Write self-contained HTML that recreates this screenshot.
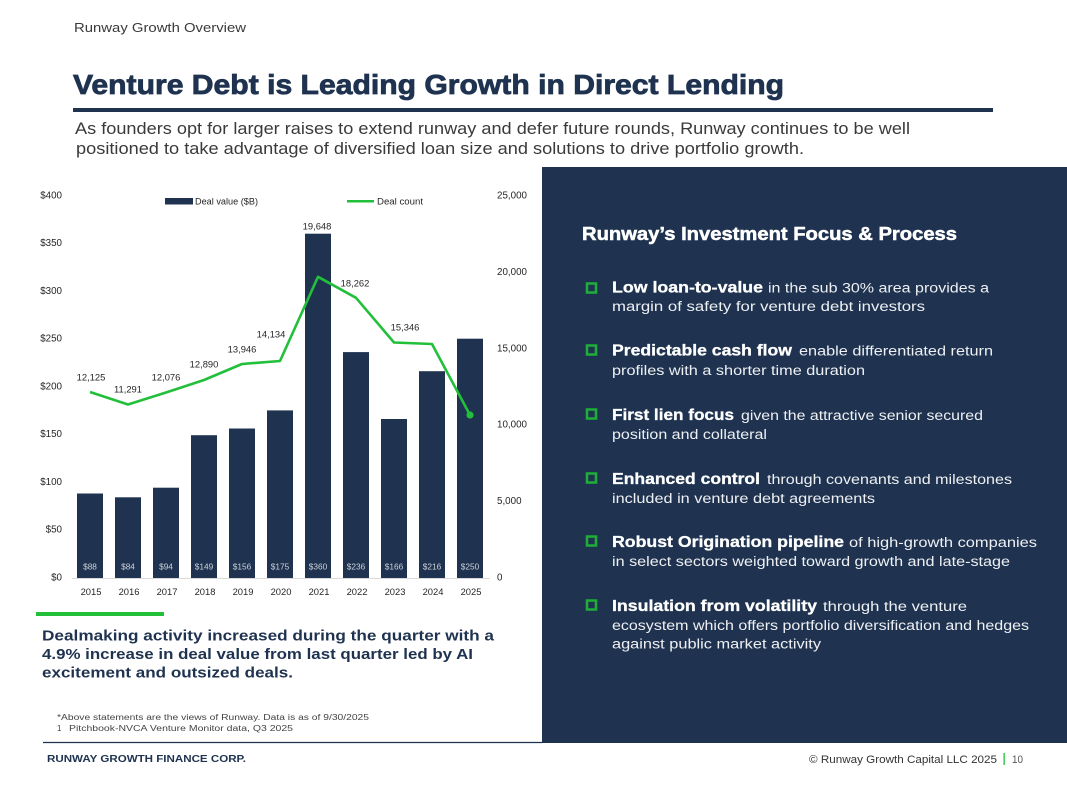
<!DOCTYPE html>
<html>
<head>
<meta charset="utf-8">
<style>
  html,body{margin:0;padding:0;background:#fff;}
  body{width:1067px;height:800px;overflow:hidden;}
  svg{display:block;font-family:"Liberation Sans",Arial,sans-serif;}
</style>
</head>
<body>
<svg width="1067" height="800" viewBox="0 0 1067 800" xmlns="http://www.w3.org/2000/svg">
  <rect x="0" y="0" width="1067" height="800" fill="#ffffff"/>

  <!-- Header -->
  <text x="74" y="32" font-size="13" fill="#3a3a3a" textLength="172" lengthAdjust="spacingAndGlyphs">Runway Growth Overview</text>
  <text x="73" y="94" font-size="28" font-weight="bold" fill="#1f3350" stroke="#1f3350" stroke-width="0.8" textLength="711" lengthAdjust="spacingAndGlyphs">Venture Debt is Leading Growth in Direct Lending</text>
  <rect x="73" y="108" width="920" height="4" fill="#1f3350"/>
  <text x="75" y="134" font-size="16.5" fill="#3a3a3a" textLength="835" lengthAdjust="spacingAndGlyphs">As founders opt for larger raises to extend runway and defer future rounds, Runway continues to be well</text>
  <text x="76" y="154" font-size="16.5" fill="#3a3a3a" textLength="728" lengthAdjust="spacingAndGlyphs">positioned to take advantage of diversified loan size and solutions to drive portfolio growth.</text>

  <!-- Right panel -->
  <rect x="542" y="167" width="525" height="576" fill="#1f3350"/>
  <text x="582" y="240" font-size="18" font-weight="bold" fill="#ffffff" stroke="#ffffff" stroke-width="0.5" textLength="375" lengthAdjust="spacingAndGlyphs">Runway’s Investment Focus &amp; Process</text>

  <g fill="none" stroke="#1fae38" stroke-width="2.5">
    <rect x="587" y="283.5" width="9" height="9"/>
    <rect x="587" y="345.5" width="9" height="9"/>
    <rect x="587" y="409.5" width="9" height="9"/>
    <rect x="587" y="473.5" width="9" height="9"/>
    <rect x="587" y="536.5" width="9" height="9"/>
    <rect x="587" y="600.5" width="9" height="9"/>
  </g>

  <g fill="#ffffff">
    <g stroke="#ffffff" stroke-width="0.3">
      <text x="612" y="292.5" font-size="15.5" font-weight="bold" textLength="151" lengthAdjust="spacingAndGlyphs">Low loan-to-value</text>
      <text x="612" y="355.7" font-size="15.5" font-weight="bold" textLength="180" lengthAdjust="spacingAndGlyphs">Predictable cash flow</text>
      <text x="612" y="420" font-size="15.5" font-weight="bold" textLength="122" lengthAdjust="spacingAndGlyphs">First lien focus</text>
      <text x="612" y="484" font-size="15.5" font-weight="bold" textLength="148" lengthAdjust="spacingAndGlyphs">Enhanced control</text>
      <text x="612" y="547" font-size="15.5" font-weight="bold" textLength="232" lengthAdjust="spacingAndGlyphs">Robust Origination pipeline</text>
      <text x="612" y="611" font-size="15.5" font-weight="bold" textLength="205" lengthAdjust="spacingAndGlyphs">Insulation from volatility</text>
    </g>
    <text x="768" y="292.5" font-size="13.5" fill="#eef0f3" textLength="221" lengthAdjust="spacingAndGlyphs">in the sub 30% area provides a</text>
    <text x="612" y="311" font-size="13.5" fill="#eef0f3" textLength="313" lengthAdjust="spacingAndGlyphs">margin of safety for venture debt investors</text>

    <text x="799" y="355.7" font-size="13.5" fill="#eef0f3" textLength="194" lengthAdjust="spacingAndGlyphs">enable differentiated return</text>
    <text x="612" y="375" font-size="13.5" fill="#eef0f3" textLength="253" lengthAdjust="spacingAndGlyphs">profiles with a shorter time duration</text>

    <text x="741" y="420" font-size="13.5" fill="#eef0f3" textLength="242" lengthAdjust="spacingAndGlyphs">given the attractive senior secured</text>
    <text x="612" y="439" font-size="13.5" fill="#eef0f3" textLength="155" lengthAdjust="spacingAndGlyphs">position and collateral</text>

    <text x="767" y="484" font-size="13.5" fill="#eef0f3" textLength="245" lengthAdjust="spacingAndGlyphs">through covenants and milestones</text>
    <text x="612" y="503" font-size="13.5" fill="#eef0f3" textLength="263" lengthAdjust="spacingAndGlyphs">included in venture debt agreements</text>

    <text x="849" y="547" font-size="13.5" fill="#eef0f3" textLength="188" lengthAdjust="spacingAndGlyphs">of high-growth companies</text>
    <text x="612" y="566" font-size="13.5" fill="#eef0f3" textLength="398" lengthAdjust="spacingAndGlyphs">in select sectors weighted toward growth and late-stage</text>

    <text x="823" y="611" font-size="13.5" fill="#eef0f3" textLength="144" lengthAdjust="spacingAndGlyphs">through the venture</text>
    <text x="612" y="630" font-size="13.5" fill="#eef0f3" textLength="417" lengthAdjust="spacingAndGlyphs">ecosystem which offers portfolio diversification and hedges</text>
    <text x="612" y="648.5" font-size="13.5" fill="#eef0f3" textLength="209" lengthAdjust="spacingAndGlyphs">against public market activity</text>
  </g>

  <!-- Chart: left axis labels -->
  <g font-size="9.8" fill="#262626" text-anchor="end">
    <text x="62" y="198.5">$400</text>
    <text x="62" y="246.2">$350</text>
    <text x="62" y="294">$300</text>
    <text x="62" y="341.7">$250</text>
    <text x="62" y="389.5">$200</text>
    <text x="62" y="437.2">$150</text>
    <text x="62" y="485">$100</text>
    <text x="62" y="532.7">$50</text>
    <text x="62" y="580.5">$0</text>
  </g>
  <!-- right axis labels -->
  <g font-size="9.8" fill="#262626">
    <text x="497" y="198.5">25,000</text>
    <text x="497" y="274.9">20,000</text>
    <text x="497" y="351.3">15,000</text>
    <text x="497" y="427.7">10,000</text>
    <text x="497" y="504.1">5,000</text>
    <text x="497" y="580.5">0</text>
  </g>

  <!-- Legend -->
  <rect x="165" y="198" width="28" height="6.5" fill="#1f3350"/>
  <text x="195" y="204.5" font-size="9" fill="#262626" textLength="63" lengthAdjust="spacingAndGlyphs">Deal value ($B)</text>
  <line x1="347" y1="201.3" x2="374" y2="201.3" stroke="#22c03a" stroke-width="2.5"/>
  <text x="377" y="204.5" font-size="9" fill="#262626" textLength="46" lengthAdjust="spacingAndGlyphs">Deal count</text>

  <!-- Bars -->
  <g fill="#1f3350">
    <rect x="77" y="493.5" width="26" height="84.5"/>
    <rect x="115" y="497.3" width="26" height="80.7"/>
    <rect x="153" y="487.7" width="26" height="90.3"/>
    <rect x="191" y="435.2" width="26" height="142.8"/>
    <rect x="229" y="428.5" width="26" height="149.5"/>
    <rect x="267" y="410.4" width="26" height="167.6"/>
    <rect x="305" y="233.7" width="26" height="344.3"/>
    <rect x="343" y="352.1" width="26" height="225.9"/>
    <rect x="381" y="419" width="26" height="159"/>
    <rect x="419" y="371.2" width="26" height="206.8"/>
    <rect x="457" y="338.7" width="26" height="239.3"/>
  </g>
  <!-- axis line -->
  <line x1="72" y1="578.5" x2="490" y2="578.5" stroke="#d9d9d9" stroke-width="1"/>

  <!-- bar labels -->
  <g font-size="8.3" fill="#cdd2da" text-anchor="middle">
    <text x="90" y="569.5">$88</text>
    <text x="128" y="569.5">$84</text>
    <text x="166" y="569.5">$94</text>
    <text x="204" y="569.5">$149</text>
    <text x="242" y="569.5">$156</text>
    <text x="280" y="569.5">$175</text>
    <text x="318" y="569.5">$360</text>
    <text x="356" y="569.5">$236</text>
    <text x="394" y="569.5">$166</text>
    <text x="432" y="569.5">$216</text>
    <text x="470" y="569.5">$250</text>
  </g>

  <!-- year labels -->
  <g font-size="9.4" fill="#262626" text-anchor="middle">
    <text x="91" y="595">2015</text>
    <text x="129" y="595">2016</text>
    <text x="167" y="595">2017</text>
    <text x="205" y="595">2018</text>
    <text x="243" y="595">2019</text>
    <text x="281" y="595">2020</text>
    <text x="319" y="595">2021</text>
    <text x="357" y="595">2022</text>
    <text x="395" y="595">2023</text>
    <text x="433" y="595">2024</text>
    <text x="471" y="595">2025</text>
  </g>

  <!-- Deal count line -->
  <polyline fill="none" stroke="#22c03a" stroke-width="2.6" stroke-linejoin="round"
    points="90,392 128,404.5 166,392.5 204,380 242,364 280,361 318,276.8 356,297.8 394,342.5 432,344 470,415"/>
  <circle cx="470" cy="415" r="3.6" fill="#22c03a"/>

  <!-- line labels -->
  <g font-size="9.4" fill="#262626" text-anchor="middle">
    <text x="91" y="380.5">12,125</text>
    <text x="128" y="392.5">11,291</text>
    <text x="166" y="380.5">12,076</text>
    <text x="204" y="367.5">12,890</text>
    <text x="242" y="352.5">13,946</text>
    <text x="271" y="337.5">14,134</text>
    <text x="317" y="229.5">19,648</text>
    <text x="355" y="286.5">18,262</text>
    <text x="405" y="330.5">15,346</text>
  </g>

  <!-- green accent bar -->
  <rect x="36" y="612" width="128" height="4" fill="#22c03a"/>

  <!-- takeaway text -->
  <g font-size="14.5" font-weight="bold" fill="#1f3350">
    <text x="42" y="640.5" textLength="452" lengthAdjust="spacingAndGlyphs">Dealmaking activity increased during the quarter with a</text>
    <text x="42" y="659" textLength="431" lengthAdjust="spacingAndGlyphs">4.9% increase in deal value from last quarter led by AI</text>
    <text x="42" y="677.5" textLength="251" lengthAdjust="spacingAndGlyphs">excitement and outsized deals.</text>
  </g>

  <!-- footnotes -->
  <text x="57" y="720" font-size="8" fill="#444" textLength="312" lengthAdjust="spacingAndGlyphs">*Above statements are the views of Runway. Data is as of 9/30/2025</text>
  <text x="57" y="731" font-size="8" fill="#444">1</text>
  <text x="69" y="731" font-size="8" fill="#444" textLength="224" lengthAdjust="spacingAndGlyphs">Pitchbook-NVCA Venture Monitor data, Q3 2025</text>

  <!-- footer -->
  <line x1="43" y1="742.5" x2="542" y2="742.5" stroke="#1f3350" stroke-width="1.3"/>
  <text x="47" y="762" font-size="10.5" font-weight="bold" fill="#1f3350" textLength="199" lengthAdjust="spacingAndGlyphs">RUNWAY GROWTH FINANCE CORP.</text>
  <text x="809" y="763" font-size="11" fill="#333" textLength="188" lengthAdjust="spacingAndGlyphs">© Runway Growth Capital LLC 2025</text>
  <rect x="1003.5" y="753" width="1.3" height="12" fill="#22c03a"/>
  <text x="1012" y="763" font-size="11" fill="#555" textLength="11" lengthAdjust="spacingAndGlyphs">10</text>
</svg>
</body>
</html>
